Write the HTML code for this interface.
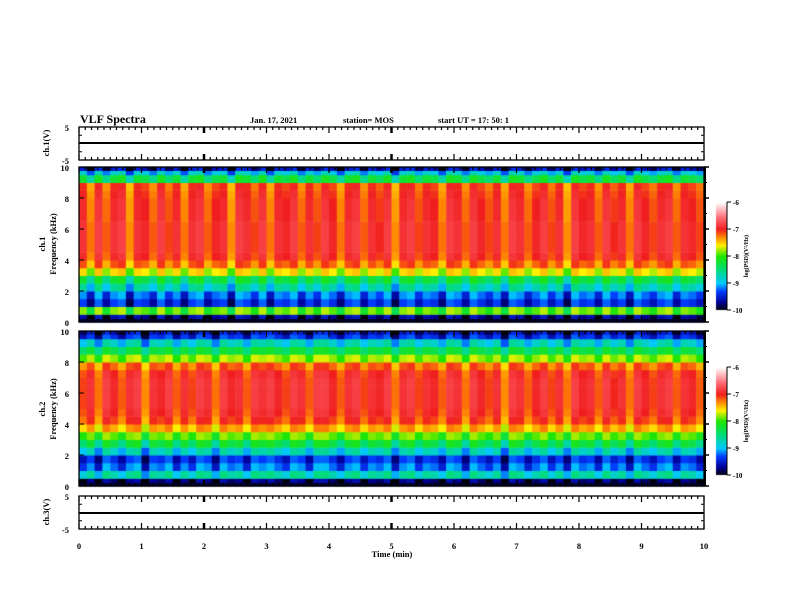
<!DOCTYPE html>
<html><head><meta charset="utf-8">
<style>
body{margin:0;background:#fff;}
#wrap{position:relative;width:792px;height:612px;overflow:hidden;}
svg text{font-family:"Liberation Serif",serif;font-weight:bold;fill:#000;}
canvas{position:absolute;left:0;top:0;}
</style></head>
<body>
<div id="wrap">
<canvas id="cv" width="792" height="612"></canvas>
<svg id="sv" width="792" height="612" style="position:absolute;left:0;top:0">
<text x="80" y="123" font-size="12">VLF Spectra</text>
<text x="250" y="123" font-size="8.5">Jan. 17, 2021</text>
<text x="343" y="123" font-size="8.5">station= MOS</text>
<text x="438" y="123" font-size="8.5">start  UT =  17: 50: 1</text>
<text x="392" y="557" font-size="8.5" text-anchor="middle">Time  (min)</text>
<text transform="translate(49,143) rotate(-90)" font-size="8.5" text-anchor="middle">ch.1(V)</text>
<text transform="translate(45,244) rotate(-90)" font-size="8.5" text-anchor="middle">ch.1</text>
<text transform="translate(56,244) rotate(-90)" font-size="8.5" text-anchor="middle">Frequency (kHz)</text>
<text transform="translate(45,409) rotate(-90)" font-size="8.5" text-anchor="middle">ch.2</text>
<text transform="translate(56,409) rotate(-90)" font-size="8.5" text-anchor="middle">Frequency (kHz)</text>
<text transform="translate(49,512) rotate(-90)" font-size="8.5" text-anchor="middle">ch.3(V)</text>
<g id="g"></g>
</svg>
</div>
<script>
// ---- data ----
const xTicks=[0,1,2,3,4,5,6,7,8,9,10];
const cbTicks=[-6,-7,-8,-9,-10];
const freqTicks=[0,2,4,6,8,10];
// ch1 mean log PSD per 0.5 kHz bin (0 -> 10 kHz)
const ch1Profile=[-9.7,-7.9,-9.4,-9.2,-8.7,-8.3,-7.6,-7.2,-7.0,-6.95,-6.95,-6.95,-6.95,-7.0,-7.0,-7.0,-7.05,-7.1,-8.3,-8.9];
const ch2Profile=[-9.8,-8.7,-9.2,-9.4,-8.8,-8.3,-7.9,-7.4,-7.1,-7.0,-6.95,-6.95,-6.95,-6.95,-7.0,-7.2,-7.8,-8.3,-8.8,-9.4];
// intensity modulation per time column (10 min, 80 columns)
const ch1Time=[0.1,-0.4,0.2,-0.3,0.1,0.2,-0.5,0.1,0.0,-0.3,0.2,-0.2,0.1,-0.4,0.1,0.2,-0.3,0.0,0.1,-0.5,0.2,0.1,-0.2,0.2,-0.4,0.1,0.0,0.2,-0.3,0.1,-0.2,0.2,0.0,-0.4,0.1,0.2,-0.3,0.1,-0.1,0.2,-0.5,0.1,0.2,-0.2,0.1,0.0,-0.4,0.2,0.1,-0.3,0.2,0.0,-0.2,0.1,-0.4,0.2,0.1,-0.3,0.0,0.2,-0.2,0.1,-0.5,0.2,0.0,0.1,-0.3,0.2,-0.1,0.1,-0.4,0.2,0.0,-0.2,0.1,0.2,-0.3,0.1,0.0,-0.2];
const ch2Time=[-0.2,0.1,-0.4,0.2,0.0,-0.3,0.1,0.2,-0.5,0.1,0.0,0.2,-0.3,0.1,-0.2,0.2,0.1,-0.4,0.2,0.0,0.1,-0.3,0.2,0.1,0.2,0.0,-0.2,0.2,0.1,-0.3,0.2,0.2,0.0,-0.3,0.1,0.2,-0.2,0.1,0.0,0.2,-0.4,0.1,0.2,-0.2,0.1,0.0,-0.3,0.2,0.1,-0.4,0.2,0.0,-0.2,0.1,-0.5,0.2,0.1,-0.3,0.0,0.2,-0.2,0.1,-0.4,0.2,0.0,0.1,-0.3,0.2,-0.1,0.1,-0.4,0.2,0.0,-0.2,0.1,0.2,-0.3,0.1,0.0,-0.3];
// ---- geometry ----
const X0=79,X1=704;
const xs=v=>X0+(X1-X0)*v/10;
const panels=[{top:127,bot:160,type:'v',lo:-5,hi:5,name:'ch1-voltage-panel',level:143},
{top:167,bot:322,type:'f',name:'ch1-spectrogram-panel'},
{top:331,bot:486,type:'f',name:'ch2-spectrogram-panel'},
{top:496,bot:529,type:'v',lo:-5,hi:5,name:'ch3-voltage-panel',level:513}];
const cv=document.getElementById('cv'),ctx=cv.getContext('2d');
const stops=[[-10,[0,0,0]],[-9.7,[0,0,150]],[-9.3,[0,60,255]],[-9,[0,200,255]],[-8.5,[0,220,120]],[-8,[30,230,0]],[-7.6,[255,240,0]],[-7.3,[255,140,0]],[-7,[240,30,30]],[-6.6,[255,100,110]],[-6,[255,255,255]]];
function cmap(v){v=Math.max(-10,Math.min(-6,v));for(let i=1;i<stops.length;i++){if(v<=stops[i][0]){const a=stops[i-1],b=stops[i];const t=(v-a[0])/(b[0]-a[0]);return 'rgb('+a[1].map((c,k)=>Math.round(c+(b[1][k]-c)*t)).join(',')+')';}}return '#fff';}
function drawSpec(p,prof,tm){const ys=f=>p.bot-(p.bot-p.top)*f/10;
 const nt=tm.length,nf=prof.length;
 for(let t=0;t<nt;t++)for(let f=0;f<nf;f++){
  const x=xs(10*t/nt),w=xs(10*(t+1)/nt)-x;const y=ys(0.5*(f+1)),h=ys(0.5*f)-y;
  const sc=(f>=6&&f<=17)?0.7:0.9;
  ctx.fillStyle=cmap(prof[f]+tm[t]*sc);ctx.fillRect(x,y,w+0.5,h+0.5);}
 // dark band at top and bottom edges
 for(let t=0;t<nt;t++){const x=xs(10*t/nt),w=xs(10*(t+1)/nt)-x;
  ctx.fillStyle=cmap(-9.6+tm[t]);ctx.fillRect(x,p.top,w+0.5,4);
  ctx.fillStyle=cmap(-9.9);ctx.fillRect(x,p.bot-3,w+0.5,3);}
}
drawSpec(panels[1],ch1Profile,ch1Time);
drawSpec(panels[2],ch2Profile,ch2Time);
// colorbars
function cbar(top,bot){for(let y=top;y<bot;y++){ctx.fillStyle=cmap(-6-4*(y-top)/(bot-top));ctx.fillRect(716,y,11,1);}}
cbar(202,310);cbar(367,475);
const g=document.getElementById('g');const NS='http://www.w3.org/2000/svg';
function el(tag,attrs,parent){const e=document.createElementNS(NS,tag);for(const k in attrs)e.setAttribute(k,attrs[k]);(parent||g).appendChild(e);return e;}
panels.forEach((p,pi)=>{
 const r=el('rect',{x:X0,y:p.top,width:X1-X0,height:p.bot-p.top,fill:'none',stroke:'#000','stroke-width':1.3});
 
 
 for(let m=0;m<=100;m++){const v=m/10;const x=xs(v);const major=m%10==0;const L=major?6:3;const sw=(m==20||m==50)?2.5:1.2;
  el('line',{x1:x,x2:x,y1:p.top,y2:p.top+L,stroke:'#000','stroke-width':sw});
  el('line',{x1:x,x2:x,y1:p.bot,y2:p.bot-L,stroke:'#000','stroke-width':sw});}
 if(p.type=='v'){
  const ln=el('line',{x1:X0,x2:X1,y1:p.level,y2:p.level,stroke:'#000','stroke-width':2});
  
  
  [[5,p.top],[-5,p.bot]].forEach(a=>{const t=el('text',{x:69,y:a[1]+4,'font-size':8.5,'text-anchor':'end'});t.textContent=a[0];});
  for(let k=1;k<4;k++){const y=p.top+(p.bot-p.top)*k/4;el('line',{x1:X0,x2:X0+3,y1:y,y2:y,stroke:'#000'});el('line',{x1:X1,x2:X1-3,y1:y,y2:y,stroke:'#000'});}
 }else{
  const ys=f=>p.bot-(p.bot-p.top)*f/10;
  freqTicks.forEach(f=>{const y=ys(f);const t=el('text',{x:69,y:y+4,'font-size':8.5,'text-anchor':'end'});t.textContent=f;
   el('line',{x1:X0,x2:X0+5,y1:y,y2:y,stroke:'#000'});el('line',{x1:X1,x2:X1+5,y1:y,y2:y,stroke:'#000','stroke-width':1.5});});
  for(let f=1;f<10;f+=2){const y=ys(f);el('line',{x1:X1,x2:X1+3,y1:y,y2:y,stroke:'#000'});}
  el('line',{x1:X1+1,x2:X1+1,y1:p.top,y2:p.bot,stroke:'#000','stroke-width':2});
 }
});
xTicks.forEach(v=>{const t=el('text',{x:xs(v),y:549,'font-size':8.5,'text-anchor':'middle'});t.textContent=v;
 
 });
[[202,310,'ch1'],[367,475,'ch2']].forEach(c=>{
 const r=el('rect',{x:716,y:c[0],width:11,height:c[1]-c[0],fill:'none',stroke:'none'});
 
 
 el('line',{x1:727,x2:727,y1:c[0],y2:c[1],stroke:'#000'});
 cbTicks.forEach(v=>{const y=c[0]+(c[1]-c[0])*(-6-v)/4;el('line',{x1:727,x2:731,y1:y,y2:y,stroke:'#000'});
  const t=el('text',{x:733,y:y+3,'font-size':7});t.textContent=v;});
 const lab=el('text',{transform:'translate(748,'+((c[0]+c[1])/2)+') rotate(-90)','font-size':6,'text-anchor':'middle'});
 lab.textContent='log(PSD)(V²/Hz)';
 
 
});
</script>
</body></html>
